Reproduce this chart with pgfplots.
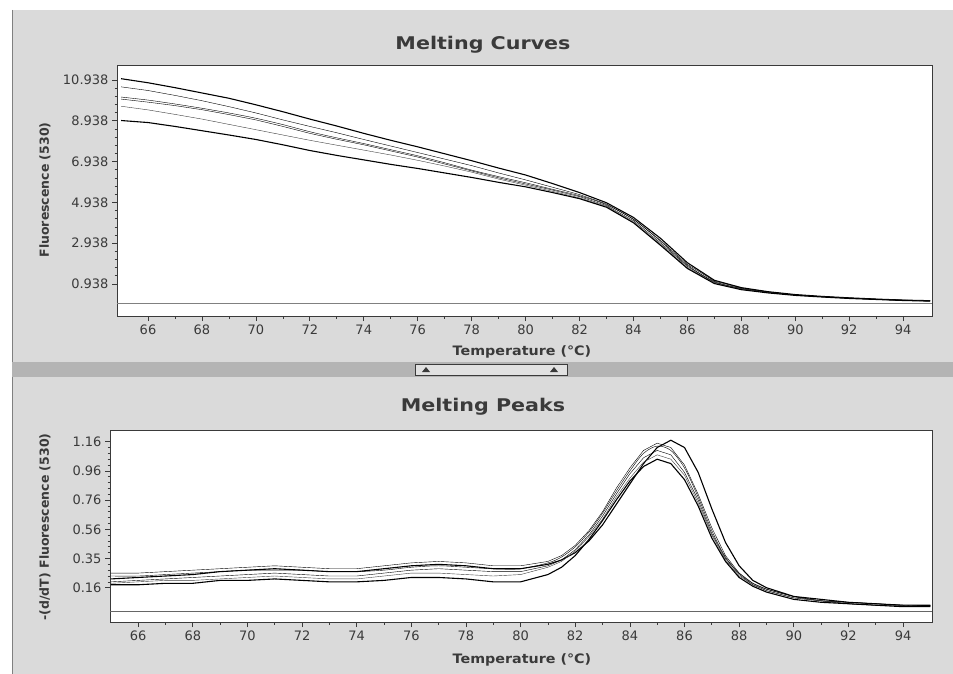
\documentclass[border=0pt]{standalone}
\usepackage{pgfplots}
\pgfplotsset{compat=1.18}
\usepackage{pgfplotstable}
\usepackage{fontspec}
\setmainfont{DejaVu Sans}
\definecolor{paper}{HTML}{DADADA}
\definecolor{band}{HTML}{B4B4B4}
\definecolor{ink}{HTML}{3A3A3A}

\pgfplotstableread{
x    a     b     c     d     e     f
65 11.00 10.60 10.10 10.00 9.65 8.95
66 10.80 10.42 9.95 9.85 9.47 8.85
67 10.56 10.18 9.76 9.68 9.25 8.66
68 10.30 9.92 9.55 9.48 9.02 8.45
69 10.04 9.63 9.32 9.24 8.76 8.24
70 9.72 9.32 9.06 8.98 8.50 8.02
71 9.38 8.98 8.75 8.66 8.24 7.76
72 9.02 8.66 8.40 8.32 7.98 7.48
73 8.68 8.35 8.10 8.03 7.74 7.24
74 8.32 8.02 7.82 7.76 7.50 7.02
75 7.98 7.70 7.52 7.46 7.26 6.80
76 7.66 7.38 7.22 7.16 7.00 6.60
77 7.32 7.06 6.88 6.82 6.72 6.38
78 6.98 6.74 6.52 6.48 6.42 6.16
79 6.62 6.38 6.20 6.14 6.08 5.92
80 6.28 6.04 5.90 5.84 5.78 5.70
81 5.86 5.68 5.58 5.54 5.48 5.42
82 5.42 5.32 5.26 5.22 5.16 5.12
83 4.92 4.86 4.82 4.78 4.74 4.70
84 4.20 4.12 4.10 4.04 3.98 3.94
85 3.18 3.08 3.04 2.96 2.90 2.84
86 1.98 1.90 1.86 1.80 1.74 1.70
87 1.12 1.08 1.06 1.02 1.00 0.96
88 0.76 0.74 0.72 0.70 0.68 0.66
89 0.56 0.55 0.54 0.53 0.52 0.50
90 0.42 0.41 0.40 0.40 0.39 0.38
91 0.33 0.32 0.32 0.31 0.31 0.30
92 0.26 0.25 0.25 0.24 0.24 0.23
93 0.20 0.19 0.19 0.19 0.18 0.18
94 0.15 0.15 0.14 0.14 0.14 0.13
95 0.12 0.12 0.11 0.11 0.11 0.10
}\curves

\pgfplotstableread{
x     a    b    c    d    e    f
65   0.22 0.26 0.24 0.20 0.19 0.18
66   0.23 0.26 0.24 0.21 0.20 0.18
67   0.24 0.27 0.25 0.22 0.21 0.19
68   0.25 0.28 0.26 0.23 0.21 0.19
69   0.27 0.29 0.27 0.24 0.22 0.21
70   0.28 0.30 0.28 0.25 0.23 0.21
71   0.29 0.31 0.28 0.26 0.24 0.22
72   0.28 0.30 0.28 0.25 0.23 0.21
73   0.27 0.29 0.27 0.24 0.22 0.20
74   0.27 0.29 0.27 0.24 0.22 0.20
75   0.29 0.31 0.28 0.26 0.24 0.21
76   0.31 0.33 0.30 0.28 0.26 0.23
77   0.32 0.34 0.31 0.29 0.26 0.23
78   0.31 0.33 0.30 0.28 0.25 0.22
79   0.29 0.31 0.29 0.27 0.24 0.20
80   0.29 0.31 0.29 0.27 0.25 0.20
81   0.32 0.34 0.33 0.31 0.30 0.25
81.5 0.35 0.38 0.37 0.35 0.34 0.30
82   0.40 0.45 0.44 0.42 0.41 0.38
82.5 0.48 0.55 0.54 0.52 0.51 0.49
83   0.59 0.68 0.67 0.65 0.63 0.62
83.5 0.73 0.84 0.82 0.80 0.78 0.76
84   0.87 0.98 0.96 0.94 0.91 0.89
84.5 1.01 1.10 1.08 1.05 1.02 0.99
85   1.12 1.15 1.13 1.10 1.07 1.04
85.5 1.17 1.12 1.10 1.07 1.04 1.01
86   1.12 1.00 0.98 0.95 0.93 0.90
86.5 0.95 0.80 0.78 0.76 0.74 0.72
87   0.70 0.57 0.55 0.53 0.52 0.50
87.5 0.47 0.38 0.37 0.36 0.35 0.34
88   0.31 0.26 0.26 0.25 0.24 0.23
88.5 0.21 0.19 0.19 0.18 0.18 0.17
89   0.16 0.15 0.15 0.14 0.14 0.13
90   0.10 0.10 0.10 0.09 0.09 0.08
91   0.08 0.07 0.07 0.07 0.07 0.06
92   0.06 0.06 0.06 0.05 0.05 0.05
93   0.05 0.05 0.05 0.04 0.04 0.04
94   0.04 0.04 0.04 0.04 0.04 0.03
95   0.04 0.04 0.04 0.04 0.03 0.03
}\peaks

\pgfplotsset{
  lc/.style={axis background/.style={fill=white}, scale only axis,
    axis line style={ink, line width=1pt}, tick style={ink, line width=0.7pt},
    tick align=outside, xtick pos=bottom, ytick pos=left,
    major tick length=5pt, minor tick length=2.5pt,
    xtick={66,68,...,94}, minor x tick num=1, minor y tick num=4,
    ticklabel style={font=\fontsize{13}{15}\selectfont, text=ink},
    /pgf/number format/assume math mode=true,
    cycle list={{black!75, line width=1.1pt, no marks, smooth, tension=0.4}}},
}

\begin{document}
\begin{tikzpicture}
\useasboundingbox (0,0) rectangle (953pt,-674pt);
\fill[white] (0,0) rectangle (953pt,-674pt);
\fill[paper] (12pt,-10pt) rectangle (953pt,-674pt);
\draw[gray, line width=0.8pt] (12pt,-10pt) -- (12pt,-674pt);
\fill[band] (12pt,-362pt) rectangle (953pt,-377pt);
\draw[ink, fill=paper!80!white] (415pt,-364pt) rectangle (567pt,-375pt);
\fill[ink] (426pt,-367pt) -- (422pt,-372pt) -- (430pt,-372pt) -- cycle;
\fill[ink] (554pt,-367pt) -- (550pt,-372pt) -- (558pt,-372pt) -- cycle;

\node[font=\bfseries\fontsize{17.5}{19}\selectfont, text=ink, xscale=1.18] at (483pt,-45pt) {Melting Curves};
\node[font=\bfseries\fontsize{17.5}{19}\selectfont, text=ink, xscale=1.18] at (483pt,-407pt) {Melting Peaks};
\node[font=\bfseries\fontsize{13}{15}\selectfont, text=ink, xscale=1.1] at (522pt,-352pt) {Temperature (°C)};
\node[font=\bfseries\fontsize{13}{15}\selectfont, text=ink, xscale=1.1] at (522pt,-660pt) {Temperature (°C)};
\node[rotate=90, font=\bfseries\fontsize{12.5}{14}\selectfont, text=ink] at (45pt,-190pt) {Fluorescence (530)};
\node[rotate=90, font=\bfseries\fontsize{12.5}{14}\selectfont, text=ink] at (45pt,-527pt) {-(d/dT) Fluorescence (530)};

\begin{axis}[lc, at={(117pt,-316pt)}, anchor=south west, width=815pt, height=251pt,
  xmin=64.85, xmax=95.07, ymin=-0.63, ymax=11.67,
  ytick={0.938,2.938,4.938,6.938,8.938,10.938},
  yticklabels={0.938,2.938,4.938,6.938,8.938,10.938}]
\addplot[gray, line width=0.6pt] coordinates {(64.85,0) (95.07,0)};
\addplot table[x=x, y=a] {\curves};
\addplot table[x=x, y=b] {\curves};
\addplot table[x=x, y=c] {\curves};
\addplot table[x=x, y=d] {\curves};
\addplot table[x=x, y=e] {\curves};
\addplot table[x=x, y=f] {\curves};
\end{axis}

\begin{axis}[lc, at={(110pt,-622pt)}, anchor=south west, width=822pt, height=192pt,
  xmin=64.97, xmax=95.06, ymin=-0.075, ymax=1.24,
  ytick={0.16,0.36,0.56,0.76,0.96,1.16},
  yticklabels={0.16,0.35,0.56,0.76,0.96,1.16}]
\addplot[gray!80!black, line width=0.8pt] coordinates {(64.97,0) (95.06,0)};
\addplot table[x=x, y=a] {\peaks};
\addplot table[x=x, y=b] {\peaks};
\addplot table[x=x, y=c] {\peaks};
\addplot table[x=x, y=d] {\peaks};
\addplot table[x=x, y=e] {\peaks};
\addplot table[x=x, y=f] {\peaks};
\end{axis}
\end{tikzpicture}
\end{document}
